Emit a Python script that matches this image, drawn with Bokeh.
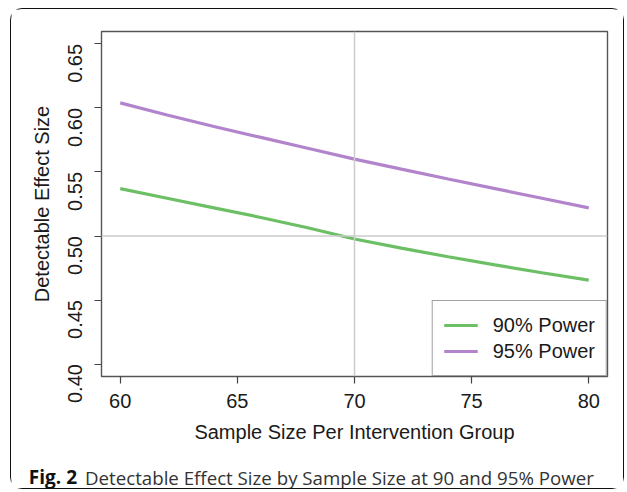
import math
from bokeh.plotting import figure
from bokeh.layouts import column
from bokeh.models import (FixedTicker, Span, Legend, LegendItem, Label,
                          NumeralTickFormatter)
from bokeh.embed import file_html
from bokeh.resources import INLINE

# ---- data ----
sample_size = [60, 62, 64, 66, 68, 70, 72, 74, 76, 78, 80]
power90 = [0.537, 0.5295, 0.522, 0.5145, 0.5065, 0.4977, 0.4905, 0.4838, 0.4775, 0.4713, 0.4656]
power95 = [0.604, 0.5945, 0.5855, 0.577, 0.5685, 0.5600, 0.5522, 0.5445, 0.5370, 0.5295, 0.5220]
x_ticks = [60, 65, 70, 75, 80]
y_ticks = [0.40, 0.45, 0.50, 0.55, 0.60, 0.65]
series_names = ["90% Power", "95% Power"]
x_title = "Sample Size Per Intervention Group"
y_title = "Detectable Effect Size"
caption_bold = "Fig. 2"
caption_text = "Detectable Effect Size by Sample Size at 90 and 95% Power"

GREEN = "#6cbf64"
PURPLE = "#b184cc"
FONT = "Liberation Sans"
TXT = "#1a1a1a"

fig = figure(frame_width=506, frame_height=345, output_backend="svg",
             toolbar_location=None, x_range=(59.2, 80.8), y_range=(0.3903, 0.6597))
fig.frame_align = False
fig.min_border_left = 90
fig.min_border_right = 16
fig.min_border_top = 22
fig.min_border_bottom = 72
fig.background_fill_color = "white"
fig.border_fill_color = "white"
fig.outline_line_color = "#555555"
fig.outline_line_width = 1.4
fig.xgrid.visible = False
fig.ygrid.visible = False

for ax in (fig.xaxis[0], fig.yaxis[0]):
    ax.axis_line_color = None
    ax.major_tick_in = 0
    ax.major_tick_out = 7
    ax.major_tick_line_color = "#444444"
    ax.major_tick_line_width = 1.2
    ax.minor_tick_line_color = None
    ax.major_label_text_font = FONT
    ax.major_label_text_font_size = "20px"
    ax.major_label_text_color = TXT
    ax.axis_label_text_font = FONT
    ax.axis_label_text_font_size = "20px"
    ax.axis_label_text_font_style = "normal"
    ax.axis_label_text_color = TXT

fig.xaxis.ticker = FixedTicker(ticks=x_ticks)
fig.yaxis.ticker = FixedTicker(ticks=y_ticks)
fig.yaxis.formatter = NumeralTickFormatter(format="0.00")
fig.yaxis.major_label_orientation = math.pi / 2
fig.xaxis.axis_label = x_title
fig.yaxis.axis_label = y_title
fig.xaxis.major_label_standoff = 10
fig.xaxis.axis_label_standoff = 10
fig.yaxis.major_label_standoff = 19
fig.yaxis.axis_label_standoff = 6

# reference lines
fig.add_layout(Span(location=x_ticks[2], dimension="height", line_color="#cccccc", line_width=1.5))
fig.add_layout(Span(location=y_ticks[2], dimension="width", line_color="#cccccc", line_width=1.5))

r90 = fig.line(sample_size, power90, line_color=GREEN, line_width=3.2)
r95 = fig.line(sample_size, power95, line_color=PURPLE, line_width=3.2)

legend = Legend(items=[LegendItem(label=series_names[0], renderers=[r90]),
                       LegendItem(label=series_names[1], renderers=[r95])],
                location="bottom_right", margin=0, padding=11, spacing=0,
                glyph_width=34, glyph_height=26, label_height=26,
                label_standoff=15, border_line_color="#444444",
                border_line_width=1.2, background_fill_alpha=1.0,
                label_text_font=FONT, label_text_font_size="20px",
                label_text_color=TXT)
fig.add_layout(legend, "center")

# caption strip
cap = figure(frame_width=612, frame_height=40, output_backend="svg",
             toolbar_location=None, x_axis_type=None, y_axis_type=None,
             x_range=(0, 612), y_range=(0, 40))
cap.frame_align = False
cap.min_border = 0
cap.min_border_left = 0
cap.min_border_right = 0
cap.min_border_top = 0
cap.min_border_bottom = 0
cap.outline_line_color = None
cap.xgrid.visible = False
cap.ygrid.visible = False
cap.add_layout(Label(x=65.5, y=11.5, x_units="screen", y_units="screen", text=caption_bold,
                     text_font="Open Sans", text_font_style="bold", text_font_size="19px",
                     text_color="#111111", text_baseline="alphabetic", text_align="right"))
cap.add_layout(Label(x=73.5, y=11.5, x_units="screen", y_units="screen", text=caption_text,
                     text_font="Open Sans", text_font_size="18.7px",
                     text_color="#333333", text_baseline="alphabetic"))

p = column(fig, cap, styles={"border": "1.5px solid #111111", "border-radius": "12px",
                             "margin-left": "10px", "margin-top": "8px"})

open("out.html", "w").write(file_html(p, INLINE))
